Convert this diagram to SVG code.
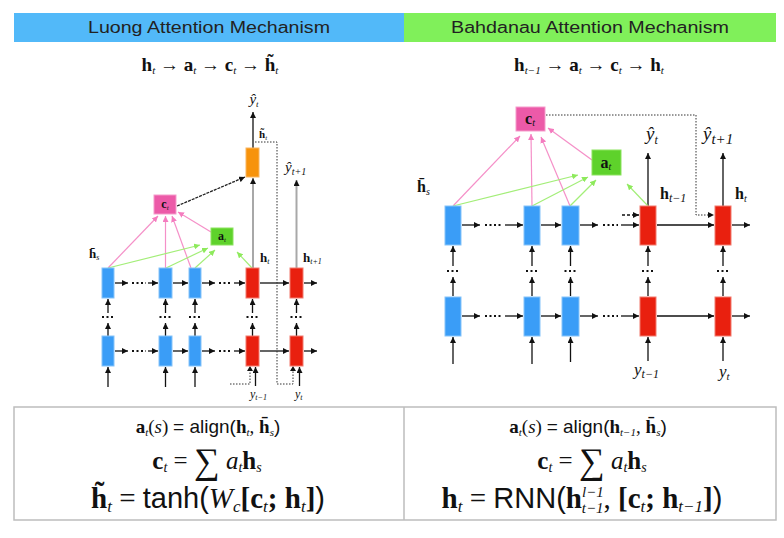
<svg xmlns="http://www.w3.org/2000/svg" width="784" height="538" viewBox="0 0 784 538">
<defs>
<marker id="ak" markerUnits="userSpaceOnUse" markerWidth="7" markerHeight="6" refX="6" refY="3" orient="auto"><path d="M0,0 L6,3 L0,6 z" fill="#111"/></marker>
<marker id="ap" markerUnits="userSpaceOnUse" markerWidth="7" markerHeight="6" refX="6" refY="3" orient="auto"><path d="M0,0 L6,3 L0,6 z" fill="#F47CBF"/></marker>
<marker id="ag" markerUnits="userSpaceOnUse" markerWidth="7" markerHeight="6" refX="6" refY="3" orient="auto"><path d="M0,0 L6,3 L0,6 z" fill="#8EEA5C"/></marker>
<style>
.hdr{font-family:"Liberation Sans",Arial,sans-serif;font-size:16px;fill:#222;text-anchor:middle}
.m{font-family:"Liberation Serif","Times New Roman",serif;fill:#111}
.b{font-weight:bold}
.i{font-style:italic}
.sf{font-family:"Liberation Sans",Arial,sans-serif}
.blue{fill:#3A9DF7;stroke:#86C4FA;stroke-width:1}
.red{fill:#E9200F;stroke:#F27A6E;stroke-width:1}
.k{stroke:#111;stroke-width:1.3;fill:none}
.ka{stroke:#111;stroke-width:1.3;fill:none;marker-end:url(#ak)}
.dots{stroke:#111;stroke-width:2;stroke-dasharray:2 2.5;fill:none}
.dt{stroke:#333;stroke-width:1;stroke-dasharray:1.5 1.5;fill:none}
.pk{stroke:#F590C8;stroke-width:1.2;fill:none;marker-end:url(#ap)}
.gn{stroke:#A3EE78;stroke-width:1.2;fill:none;marker-end:url(#ag)}
.gy{stroke:#A8A8A8;stroke-width:2;fill:none;marker-end:url(#ak)}
</style>
</defs>
<rect width="784" height="538" fill="#fff"/>

<g id="header">
<rect x="14" y="13" width="390" height="29" fill="#52B9F9"/>
<rect x="404" y="13" width="372" height="29" fill="#80F05A"/>
<text class="hdr" x="209" y="33" textLength="242" lengthAdjust="spacingAndGlyphs">Luong Attention Mechanism</text>
<text class="hdr" x="590" y="33" textLength="278" lengthAdjust="spacingAndGlyphs">Bahdanau Attention Mechanism</text>
</g>

<g id="flow-left">
<text class="m" x="210" y="71" text-anchor="middle" font-size="19"><tspan class="b">h</tspan><tspan class="i" font-size="11" dy="3">t</tspan><tspan dy="-3"> → </tspan><tspan class="b">a</tspan><tspan class="i" font-size="11" dy="3">t</tspan><tspan dy="-3"> → </tspan><tspan class="b">c</tspan><tspan class="i" font-size="11" dy="3">t</tspan><tspan dy="-3"> → </tspan><tspan class="b">h̃</tspan><tspan class="i" font-size="11" dy="3">t</tspan></text>
</g>
<g id="flow-right">
<text class="m" x="589" y="71" text-anchor="middle" font-size="19"><tspan class="b">h</tspan><tspan class="i" font-size="11" dy="3">t−1</tspan><tspan dy="-3"> → </tspan><tspan class="b">a</tspan><tspan class="i" font-size="11" dy="3">t</tspan><tspan dy="-3"> → </tspan><tspan class="b">c</tspan><tspan class="i" font-size="11" dy="3">t</tspan><tspan dy="-3"> → </tspan><tspan class="b">h</tspan><tspan class="i" font-size="11" dy="3">t</tspan></text>
</g>

<!-- ============ LEFT (Luong) connectors ============ -->
<g id="connectors-left">
<line class="ka" x1="115" y1="283" x2="128" y2="283"/><line class="dots" x1="132" y1="283" x2="146" y2="283"/><line class="ka" x1="148" y1="283" x2="158" y2="283"/>
<line class="ka" x1="173" y1="283" x2="188" y2="283"/>
<line class="ka" x1="202" y1="283" x2="215" y2="283"/><line class="dots" x1="219" y1="283" x2="232" y2="283"/><line class="ka" x1="234" y1="283" x2="245" y2="283"/>
<line class="ka" x1="260" y1="283" x2="289" y2="283"/>
<line class="ka" x1="304" y1="283" x2="317" y2="283"/>
<line class="ka" x1="115" y1="351" x2="128" y2="351"/><line class="dots" x1="132" y1="351" x2="146" y2="351"/><line class="ka" x1="148" y1="351" x2="158" y2="351"/>
<line class="ka" x1="173" y1="351" x2="188" y2="351"/>
<line class="ka" x1="202" y1="351" x2="215" y2="351"/><line class="dots" x1="219" y1="351" x2="232" y2="351"/><line class="ka" x1="234" y1="351" x2="245" y2="351"/>
<line class="ka" x1="260" y1="351" x2="289" y2="351"/>
<line class="ka" x1="304" y1="351" x2="317" y2="351"/>
<g>
<line class="ka" x1="108" y1="336" x2="108" y2="323"/><line class="dots" x1="102" y1="317" x2="114" y2="317"/><line class="ka" x1="108" y1="313" x2="108" y2="299"/>
<line class="ka" x1="165.5" y1="336" x2="165.5" y2="323"/><line class="dots" x1="159.5" y1="317" x2="171.5" y2="317"/><line class="ka" x1="165.5" y1="313" x2="165.5" y2="299"/>
<line class="ka" x1="195" y1="336" x2="195" y2="323"/><line class="dots" x1="189" y1="317" x2="201" y2="317"/><line class="ka" x1="195" y1="313" x2="195" y2="299"/>
<line class="ka" x1="252.5" y1="336" x2="252.5" y2="323"/><line class="dots" x1="246.5" y1="317" x2="258.5" y2="317"/><line class="ka" x1="252.5" y1="313" x2="252.5" y2="299"/>
<line class="ka" x1="296.5" y1="336" x2="296.5" y2="323"/><line class="dots" x1="290.5" y1="317" x2="302.5" y2="317"/><line class="ka" x1="296.5" y1="313" x2="296.5" y2="299"/>
</g>
<line class="ka" x1="108" y1="387" x2="108" y2="367"/>
<line class="ka" x1="165.5" y1="387" x2="165.5" y2="367"/>
<line class="ka" x1="195" y1="387" x2="195" y2="367"/>
<line class="ka" x1="255.5" y1="386" x2="255.5" y2="367"/>
<line class="ka" x1="299.5" y1="386" x2="299.5" y2="367"/>
<polyline class="dt" points="230,384 250,384 250,369"/>
<path d="M247,371 L250,366 L253,371 z" fill="#111"/>
<polyline class="dt" points="255,142 277,142 277,384 293,384 293,369"/>
<path d="M290,371 L293,366 L296,371 z" fill="#111"/>
<line class="gy" x1="253" y1="268" x2="253" y2="178"/>
<line class="gy" x1="296.5" y1="268" x2="296.5" y2="180"/>
<line class="ka" x1="253" y1="148" x2="253" y2="112"/>
<line x1="177" y1="206" x2="245" y2="177" stroke="#222" stroke-width="1.3" stroke-dasharray="3 1" marker-end="url(#ak)"/>
<line class="pk" x1="108" y1="268" x2="158" y2="216"/>
<line class="pk" x1="165.5" y1="268" x2="165.5" y2="216"/>
<line class="pk" x1="191" y1="268" x2="172" y2="216"/>
<line class="pk" x1="211" y1="232" x2="178" y2="212"/>
<line class="gn" x1="108" y1="268" x2="200" y2="245"/>
<line class="gn" x1="166" y1="268" x2="208" y2="248"/>
<line class="gn" x1="195" y1="268" x2="215" y2="250"/>
<line class="gn" x1="252" y1="268" x2="237" y2="252"/>
</g>

<g id="L-enc1-top"><rect class="blue" x="102" y="268" width="12" height="30"/></g>
<g id="L-enc2-top"><rect class="blue" x="159" y="268" width="13" height="30"/></g>
<g id="L-enc3-top"><rect class="blue" x="189" y="268" width="12" height="30"/></g>
<g id="L-dec1-top"><rect class="red" x="246" y="268" width="13" height="30"/></g>
<g id="L-dec2-top"><rect class="red" x="290" y="268" width="13" height="30"/></g>
<g id="L-enc1-bot"><rect class="blue" x="102" y="336" width="12" height="30"/></g>
<g id="L-enc2-bot"><rect class="blue" x="159" y="336" width="13" height="30"/></g>
<g id="L-enc3-bot"><rect class="blue" x="189" y="336" width="12" height="30"/></g>
<g id="L-dec1-bot"><rect class="red" x="246" y="336" width="13" height="30"/></g>
<g id="L-dec2-bot"><rect class="red" x="290" y="336" width="13" height="30"/></g>
<g id="L-attn-hidden"><rect x="246" y="148" width="13" height="29" fill="#F7930C" stroke="#F9B560"/></g>
<g id="L-ct"><rect x="154" y="195" width="22" height="19" fill="#EC5AA8" stroke="#F59BCB"/><text class="m b" x="165" y="208" text-anchor="middle" font-size="12">c<tspan class="i" font-weight="normal" font-size="7" dy="2">t</tspan></text></g>
<g id="L-at"><rect x="211" y="228" width="22" height="17" fill="#5ED22B" stroke="#8BE35F"/><text class="m b" x="222" y="240" text-anchor="middle" font-size="12">a<tspan class="i" font-weight="normal" font-size="7" dy="2">t</tspan></text></g>

<g id="L-labels">
<text class="m i" x="254" y="104" text-anchor="middle" font-size="15">ŷ<tspan font-size="9" dy="3">t</tspan></text>
<text class="m" x="259" y="138" font-size="11"><tspan class="b">h̃</tspan><tspan class="i" font-size="7" dy="2">t</tspan></text>
<text class="m i" x="285" y="172" font-size="15">ŷ<tspan font-size="10" dy="3">t+1</tspan></text>
<text class="m" x="89" y="258" font-size="13"><tspan class="b">h̄</tspan><tspan class="i" font-size="8" dy="2">s</tspan></text>
<text class="m" x="260" y="262" font-size="13"><tspan class="b">h</tspan><tspan class="i" font-size="8" dy="2">t</tspan></text>
<text class="m" x="303" y="262" font-size="13"><tspan class="b">h</tspan><tspan class="i" font-size="8" dy="2">t+1</tspan></text>
<text class="m i" x="250" y="398" font-size="12">y<tspan font-size="8" dy="2">t−1</tspan></text>
<text class="m i" x="295" y="398" font-size="12">y<tspan font-size="8" dy="2">t</tspan></text>
</g>

<!-- ============ RIGHT (Bahdanau) connectors ============ -->
<g id="connectors-right">
<line class="ka" x1="462" y1="225" x2="480" y2="225"/><line class="dots" x1="485" y1="225" x2="502" y2="225"/><line class="ka" x1="505" y1="225" x2="523" y2="225"/>
<line class="ka" x1="541" y1="225" x2="561" y2="225"/>
<line class="ka" x1="580" y1="225" x2="598" y2="225"/><line class="dots" x1="603" y1="225" x2="618" y2="225"/><line class="ka" x1="621" y1="225" x2="639" y2="225"/>
<line class="ka" x1="657" y1="225" x2="714" y2="225"/>
<line class="ka" x1="732" y1="225" x2="750" y2="225"/>
<line class="ka" x1="462" y1="316" x2="480" y2="316"/><line class="dots" x1="485" y1="316" x2="502" y2="316"/><line class="ka" x1="505" y1="316" x2="523" y2="316"/>
<line class="ka" x1="541" y1="316" x2="561" y2="316"/>
<line class="ka" x1="580" y1="316" x2="598" y2="316"/><line class="dots" x1="603" y1="316" x2="618" y2="316"/><line class="ka" x1="621" y1="316" x2="639" y2="316"/>
<line class="ka" x1="657" y1="316" x2="714" y2="316"/>
<line class="ka" x1="732" y1="316" x2="750" y2="316"/>
<line x1="622" y1="215" x2="639" y2="215" stroke="#111" stroke-width="1.3" stroke-dasharray="3 2" marker-end="url(#ak)"/>
<polyline class="dt" points="546,115 696,115 696,215 708,215" stroke-width="1.3"/>
<path d="M708,212 L714,215 L708,218 z" fill="#111"/>
<line class="ka" x1="453" y1="296" x2="453" y2="277"/><line class="dots" x1="447" y1="271" x2="459" y2="271"/><line class="ka" x1="453" y1="266" x2="453" y2="246"/>
<line class="ka" x1="532" y1="296" x2="532" y2="277"/><line class="dots" x1="526" y1="271" x2="538" y2="271"/><line class="ka" x1="532" y1="266" x2="532" y2="246"/>
<line class="ka" x1="570.5" y1="296" x2="570.5" y2="277"/><line class="dots" x1="564.5" y1="271" x2="576.5" y2="271"/><line class="ka" x1="570.5" y1="266" x2="570.5" y2="246"/>
<line class="ka" x1="648" y1="296" x2="648" y2="277"/><line class="dots" x1="642" y1="271" x2="654" y2="271"/><line class="ka" x1="648" y1="266" x2="648" y2="246"/>
<line class="ka" x1="723" y1="296" x2="723" y2="277"/><line class="dots" x1="717" y1="271" x2="729" y2="271"/><line class="ka" x1="723" y1="266" x2="723" y2="246"/>
<line class="ka" x1="453" y1="364" x2="453" y2="337"/>
<line class="ka" x1="532" y1="364" x2="532" y2="337"/>
<line class="ka" x1="570.5" y1="362" x2="570.5" y2="337"/>
<line class="ka" x1="648" y1="361" x2="648" y2="337"/>
<line class="ka" x1="723" y1="361" x2="723" y2="337"/>
<line class="ka" x1="648" y1="206" x2="648" y2="153"/>
<line class="ka" x1="723" y1="206" x2="723" y2="153"/>
<line class="pk" x1="453" y1="206" x2="520" y2="136"/>
<line class="pk" x1="532" y1="206" x2="531" y2="134"/>
<line class="pk" x1="570" y1="206" x2="541" y2="137"/>
<line class="pk" x1="592" y1="160" x2="548" y2="128"/>
<line class="gn" x1="453" y1="206" x2="578" y2="175"/>
<line class="gn" x1="532" y1="206" x2="588" y2="177"/>
<line class="gn" x1="570" y1="206" x2="596" y2="180"/>
<line class="gn" x1="648" y1="206" x2="627" y2="184"/>
</g>

<g id="R-enc1-top"><rect class="blue" x="445" y="206" width="16" height="39"/></g>
<g id="R-enc2-top"><rect class="blue" x="524" y="206" width="16" height="39"/></g>
<g id="R-enc3-top"><rect class="blue" x="562" y="206" width="17" height="39"/></g>
<g id="R-dec1-top"><rect class="red" x="640" y="206" width="16" height="39"/></g>
<g id="R-dec2-top"><rect class="red" x="715" y="206" width="16" height="39"/></g>
<g id="R-enc1-bot"><rect class="blue" x="445" y="297" width="16" height="39"/></g>
<g id="R-enc2-bot"><rect class="blue" x="524" y="297" width="16" height="39"/></g>
<g id="R-enc3-bot"><rect class="blue" x="562" y="297" width="17" height="39"/></g>
<g id="R-dec1-bot"><rect class="red" x="640" y="297" width="16" height="39"/></g>
<g id="R-dec2-bot"><rect class="red" x="715" y="297" width="16" height="39"/></g>
<g id="R-ct"><rect x="516" y="107" width="29" height="24" fill="#EC5AA8" stroke="#F59BCB"/><text class="m b" x="530" y="124" text-anchor="middle" font-size="16">c<tspan class="i" font-weight="normal" font-size="10" dy="2">t</tspan></text></g>
<g id="R-at"><rect x="592" y="150" width="29" height="25" fill="#5ED22B" stroke="#8BE35F"/><text class="m b" x="606" y="168" text-anchor="middle" font-size="16">a<tspan class="i" font-weight="normal" font-size="10" dy="2">t</tspan></text></g>

<g id="R-labels">
<text class="m i" x="652" y="140" text-anchor="middle" font-size="19">ŷ<tspan font-size="12" dy="4">t</tspan></text>
<text class="m i" x="703" y="140" font-size="19">ŷ<tspan font-size="15" dy="4">t+1</tspan></text>
<text class="m" x="417" y="192" font-size="16"><tspan class="b">h̄</tspan><tspan class="i" font-size="10" dy="3">s</tspan></text>
<text class="m" x="660" y="199" font-size="16"><tspan class="b">h</tspan><tspan class="i" font-size="12" dy="3">t−1</tspan></text>
<text class="m" x="735" y="199" font-size="16"><tspan class="b">h</tspan><tspan class="i" font-size="10" dy="3">t</tspan></text>
<text class="m i" x="634" y="375" font-size="17">y<tspan font-size="12" dy="3">t−1</tspan></text>
<text class="m i" x="719" y="377" font-size="17">y<tspan font-size="11" dy="3">t</tspan></text>
</g>

<g id="formula-table">
<rect x="14" y="407" width="762" height="113" fill="none" stroke="#BDBDBD" stroke-width="1.5"/>
<line x1="404" y1="407" x2="404" y2="520" stroke="#BDBDBD" stroke-width="1.5"/>
</g>
<g id="formulas-left">
<text class="m" x="208" y="433" text-anchor="middle" font-size="19"><tspan class="b">a</tspan><tspan class="i" font-size="11" dy="3">t</tspan><tspan dy="-3">(</tspan><tspan class="i">s</tspan><tspan>) </tspan><tspan class="sf">= align(</tspan><tspan class="b">h</tspan><tspan class="i" font-size="11" dy="3">t</tspan><tspan dy="-3">, </tspan><tspan class="b">h̄</tspan><tspan class="i" font-size="11" dy="3">s</tspan><tspan class="sf" dy="-3">)</tspan></text>
<text class="m" x="207" y="469" text-anchor="middle" font-size="25"><tspan class="b">c</tspan><tspan class="i" font-size="14" dy="3">t</tspan><tspan dy="-3"> = </tspan><tspan font-size="36" dy="4">∑</tspan><tspan class="i" dy="-4"> a</tspan><tspan class="i" font-size="14" dy="3">t</tspan><tspan class="b" dy="-3">h</tspan><tspan class="i" font-size="14" dy="3">s</tspan></text>
<text class="m" x="208" y="508" text-anchor="middle" font-size="29"><tspan class="b">h̃</tspan><tspan class="i" font-size="17" dy="4">t</tspan><tspan dy="-4"> = </tspan><tspan class="sf">tanh(</tspan><tspan class="i">W</tspan><tspan class="i" font-size="17" dy="4">c</tspan><tspan class="b" dy="-4">[c</tspan><tspan class="i" font-size="17" dy="4">t</tspan><tspan class="b" dy="-4">; h</tspan><tspan class="i" font-size="17" dy="4">t</tspan><tspan class="b" dy="-4">]</tspan><tspan class="sf">)</tspan></text>
</g>
<g id="formulas-right">
<text class="m" x="588" y="433" text-anchor="middle" font-size="19"><tspan class="b">a</tspan><tspan class="i" font-size="11" dy="3">t</tspan><tspan dy="-3">(</tspan><tspan class="i">s</tspan><tspan>) </tspan><tspan class="sf">= align(</tspan><tspan class="b">h</tspan><tspan class="i" font-size="11" dy="3">t−1</tspan><tspan dy="-3">, </tspan><tspan class="b">h̄</tspan><tspan class="i" font-size="11" dy="3">s</tspan><tspan class="sf" dy="-3">)</tspan></text>
<text class="m" x="592" y="469" text-anchor="middle" font-size="25"><tspan class="b">c</tspan><tspan class="i" font-size="14" dy="3">t</tspan><tspan dy="-3"> = </tspan><tspan font-size="36" dy="4">∑</tspan><tspan class="i" dy="-4"> a</tspan><tspan class="i" font-size="14" dy="3">t</tspan><tspan class="b" dy="-3">h</tspan><tspan class="i" font-size="14" dy="3">s</tspan></text>
<text class="m" x="582" y="508" text-anchor="middle" font-size="29"><tspan class="b">h</tspan><tspan class="i" font-size="17" dy="4">t</tspan><tspan dy="-4"> = </tspan><tspan class="sf">RNN(</tspan><tspan class="b">h</tspan><tspan class="i" font-size="15" dy="-11">l−1</tspan><tspan class="i" font-size="15" dx="-22" dy="16">t−1</tspan><tspan dy="-5">, </tspan><tspan class="b">[c</tspan><tspan class="i" font-size="17" dy="4">t</tspan><tspan class="b" dy="-4">; h</tspan><tspan class="i" font-size="17" dy="4">t−1</tspan><tspan class="b" dy="-4">]</tspan><tspan class="sf">)</tspan></text>
</g>
</svg>
